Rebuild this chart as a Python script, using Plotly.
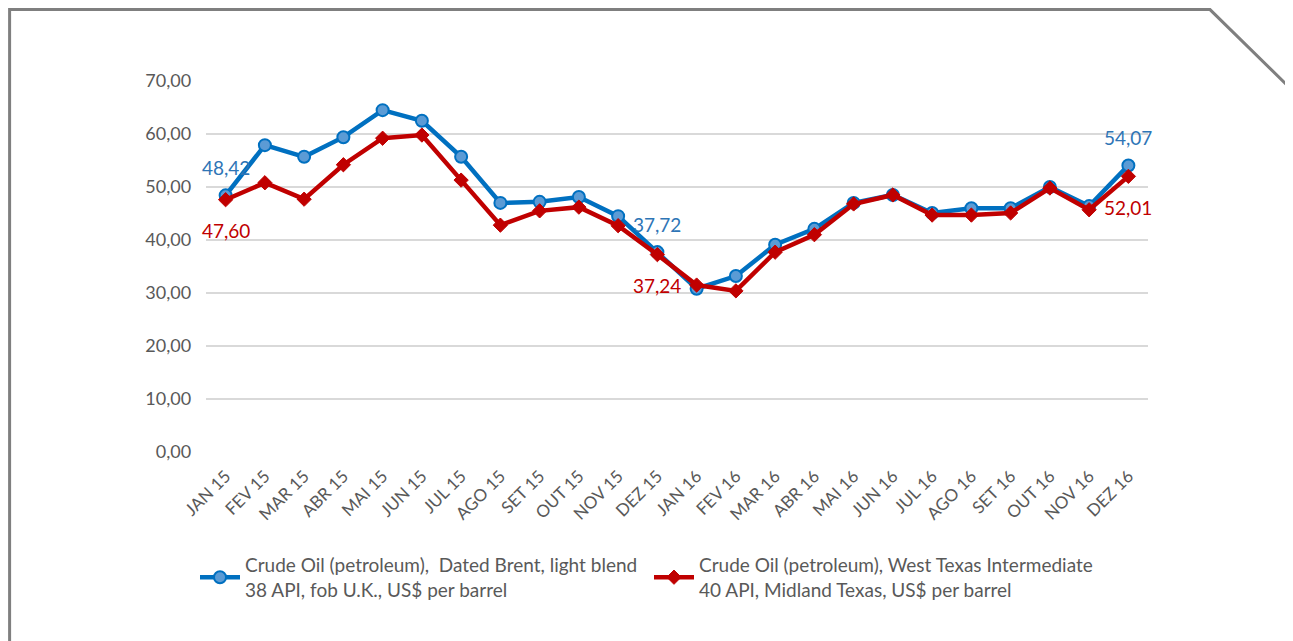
import plotly.graph_objects as go

months = ["JAN 15", "FEV 15", "MAR 15", "ABR 15", "MAI 15", "JUN 15", "JUL 15", "AGO 15",
          "SET 15", "OUT 15", "NOV 15", "DEZ 15", "JAN 16", "FEV 16", "MAR 16", "ABR 16",
          "MAI 16", "JUN 16", "JUL 16", "AGO 16", "SET 16", "OUT 16", "NOV 16", "DEZ 16"]

brent = [48.42, 57.9, 55.7, 59.4, 64.5, 62.5, 55.7, 47.0, 47.2, 48.1, 44.5, 37.72,
         30.8, 33.2, 39.1, 42.1, 47.0, 48.5, 45.1, 46.0, 46.0, 50.0, 46.4, 54.07]
wti = [47.60, 50.8, 47.7, 54.2, 59.2, 59.8, 51.3, 42.8, 45.5, 46.2, 42.7, 37.24,
       31.5, 30.4, 37.7, 41.0, 46.8, 48.5, 44.7, 44.7, 45.1, 49.8, 45.7, 52.01]

labeled_idx = [0, 11, 23]

brent_name = "Crude Oil (petroleum),&nbsp; Dated Brent, light blend<br>38 API, fob U.K., US$ per barrel"
wti_name = "Crude Oil (petroleum), West Texas Intermediate<br>40 API, Midland Texas, US$ per barrel"

BLUE_TXT = "#2E75B6"
RED = "#C00000"

fig = go.Figure()
fig.add_trace(go.Scatter(
    x=months, y=brent, name=brent_name, mode="lines+markers",
    line=dict(color="#0070C0", width=4.5),
    marker=dict(symbol="circle", size=12, color="#5B9BD5", line=dict(color="#0070C0", width=2)),
))
fig.add_trace(go.Scatter(
    x=months, y=wti, name=wti_name, mode="lines+markers",
    line=dict(color=RED, width=4.5),
    marker=dict(symbol="diamond", size=11, color=RED, line=dict(color=RED, width=1)),
))

def fmt(v):
    return f"{v:.2f}".replace(".", ",")

annotations = []
for i in labeled_idx:
    annotations.append(dict(x=months[i], y=brent[i], text=fmt(brent[i]), showarrow=False,
                            yshift=28, font=dict(family="Lato", size=19, color=BLUE_TXT)))
    annotations.append(dict(x=months[i], y=wti[i], text=fmt(wti[i]), showarrow=False,
                            yshift=-31, font=dict(family="Lato", size=19, color=RED)))

OFF = 8  # page body margin
W, H = 1293, 641
ml, mr, mt, mb = 206 - OFF, 1293 - (1148 - OFF), 81 - OFF, 641 - (452 - OFF)
pw, ph = W - ml - mr, H - mt - mb

def px(x):
    return (x - OFF - ml) / pw

def py(y):
    return (H - mb - (y - OFF)) / ph

# frame (left/top edges pulled in slightly so they stay inside the figure)
border = (f"M {px(9.6)},{py(660)} L {px(9.6)},{py(9.6)} L {px(1210)},{py(9.6)} "
          f"L {px(1290)},{py(88)} L {px(1290)},{py(660)}")

fig.update_layout(
    width=W, height=H,
    margin=dict(l=ml, r=mr, t=mt, b=mb, autoexpand=False),
    paper_bgcolor="white", plot_bgcolor="white",
    separators=",.",
    font=dict(family="Lato", color="#595959", size=16),
    xaxis=dict(type="category", range=[-0.5, len(months) - 0.5], autorange=False,
               tickangle=-45, showgrid=False, showline=False, ticklabelstandoff=10,
               ticks="", tickfont=dict(size=17, color="#595959")),
    yaxis=dict(range=[0, 70], dtick=10, tickformat=".2f", showgrid=True,
               gridcolor="#D9D9D9", gridwidth=1.5, zeroline=False, showline=False,
               ticks="", ticksuffix="   ", tickfont=dict(size=18, color="#595959")),
    showlegend=True,
    legend=dict(orientation="h", x=px(195), y=py(546), xanchor="left", yanchor="top",
                font=dict(size=19, color="#595959"), entrywidth=399, itemwidth=40,
                bgcolor="rgba(0,0,0,0)"),
    annotations=annotations,
    shapes=[dict(type="path", path=border, xref="paper", yref="paper",
                 line=dict(color="#7F7F7F", width=3), layer="above")],
)

fig.write_html("out.html")
